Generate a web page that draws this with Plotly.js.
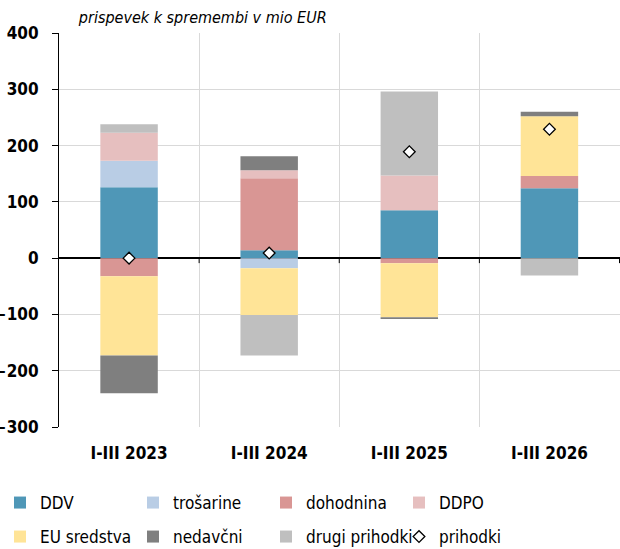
<!DOCTYPE html>
<html>
<head>
<meta charset="utf-8">
<script src="https://cdn.plot.ly/plotly-3.0.1.min.js"></script>
<style>
html,body{margin:0;padding:0;background:#fff;}
#chart{width:620px;height:549px;}
#chart svg text{font-stretch:condensed !important;}
</style>
</head>
<body>
<div id="chart"></div>
<script>
const categories = ["I-III 2023", "I-III 2024", "I-III 2025", "I-III 2026"];
const ddv        = [126, 14, 85, 124];
const trosarine  = [47, -18, 0, 0];
const dohodnina  = [-32, 128, -9, 22];
const ddpo       = [50, 14, 62, 0];
const euSredstva = [-141, -83, -96, 106];
const nedavcni   = [-67, 25, -3, 8];
const drugi      = [15, -72, 149, -31];
const prihodki   = [0, 9, 189, 229];

const FONT = '"DejaVu Sans", sans-serif';

function bar(name, y, color, lg) {
  return {type: 'bar', name: name, x: categories, y: y, width: 0.41, legend: lg,
          marker: {color: color, line: {width: 0}}, hoverinfo: 'skip'};
}

const data = [
  bar('DDV', ddv, '#4F97B7', 'legend'),
  bar('trošarine', trosarine, '#B9CDE5', 'legend'),
  bar('dohodnina', dohodnina, '#D99694', 'legend'),
  bar('DDPO', ddpo, '#E6BFBF', 'legend'),
  bar('EU sredstva', euSredstva, '#FFE497', 'legend2'),
  bar('nedavčni', nedavcni, '#7F7F7F', 'legend2'),
  bar('drugi prihodki', drugi, '#BFBFBF', 'legend2'),
  {type: 'scatter', mode: 'markers', name: 'prihodki', x: categories, y: prihodki, legend: 'legend2',
   marker: {symbol: 'diamond', size: 9, color: '#ffffff', line: {color: '#000000', width: 1.3}}}
];

// small tick marks on the zero line at category boundaries
const zeroTicks = categories.map((c, i) => ({
  type: 'line', xref: 'x', yref: 'y', x0: i + 0.5, x1: i + 0.5,
  ysizemode: 'pixel', yanchor: 0, y0: 0, y1: -5,
  line: {color: '#000000', width: 1}
}));

const legendBase = {
  orientation: 'h', xref: 'container', yref: 'container', x: 0,
  xanchor: 'left', yanchor: 'middle',
  entrywidth: 88, entrywidthmode: 'pixels', itemwidth: 30,
  font: {family: FONT, size: 17, color: '#000'},
  traceorder: 'normal', bgcolor: 'rgba(0,0,0,0)'
};

const layout = {
  width: 620, height: 549,
  margin: {l: 59, r: 0, t: 33, b: 122},
  barmode: 'relative',
  paper_bgcolor: '#ffffff', plot_bgcolor: '#ffffff',
  font: {family: FONT, size: 17, color: '#000000'},
  showlegend: true,
  xaxis: {
    type: 'category', tickson: 'boundaries', showgrid: true, gridcolor: '#d9d9d9', gridwidth: 1,
    ticks: '', showline: false, zeroline: false,
    tickfont: {family: FONT, size: 17, color: '#000', weight: 'bold'},
    ticklabelstandoff: 14
  },
  yaxis: {
    range: [-300, 400], dtick: 100, showgrid: true, gridcolor: '#d9d9d9', gridwidth: 1,
    zeroline: true, zerolinecolor: '#000000', zerolinewidth: 1.3,
    showline: true, linecolor: '#000000', linewidth: 1,
    ticks: 'outside', ticklen: 6, tickcolor: '#000000', tickwidth: 1,
    tickfont: {family: FONT, size: 17, color: '#000', weight: 'bold'},
    ticklabelstandoff: 10
  },
  shapes: zeroTicks,
  legend: Object.assign({}, legendBase, {y: 1 - 503/549}),
  legend2: Object.assign({}, legendBase, {y: 1 - 537/549}),
  annotations: [{
    text: '<i>prispevek k spremembi v mio EUR</i>',
    xref: 'paper', yref: 'paper', x: 0.006, y: 1 + 16/394,
    xanchor: 'left', yanchor: 'middle', showarrow: false,
    font: {family: FONT, size: 16, color: '#000'}
  }]
};

Plotly.newPlot('chart', data, layout, {displayModeBar: false, staticPlot: true});
</script>
</body>
</html>
